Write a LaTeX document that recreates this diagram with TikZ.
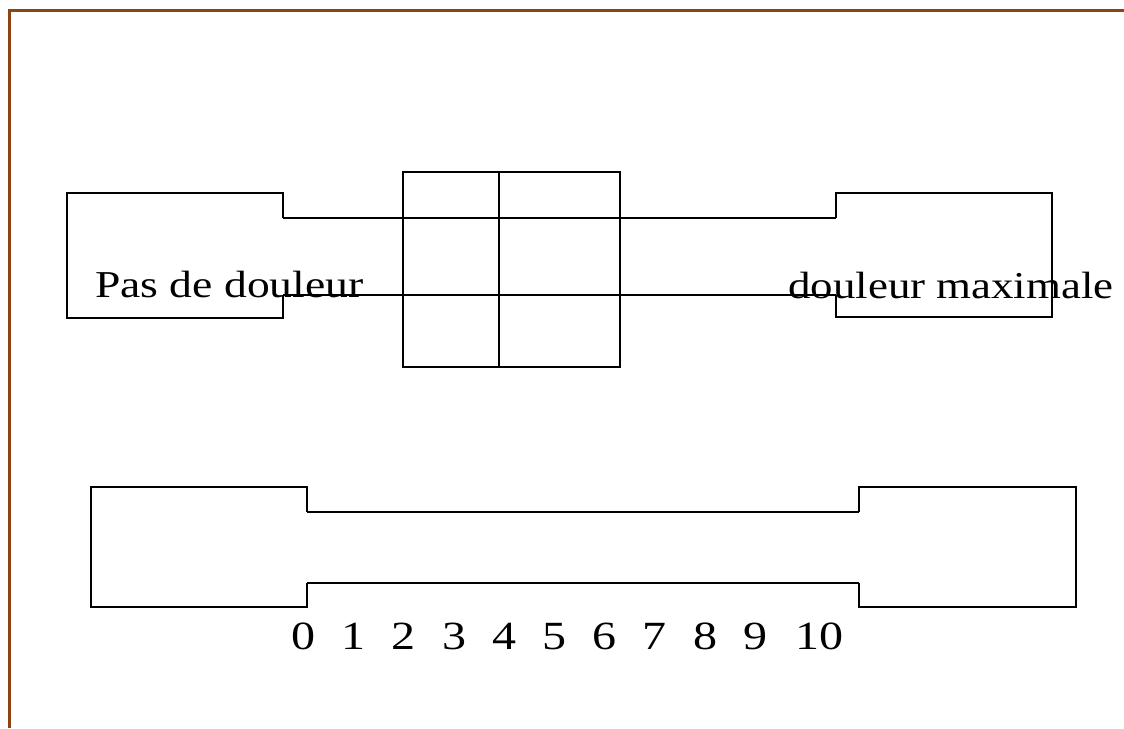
\documentclass[tikz,border=0pt]{standalone}
\usepackage{fontspec}
\setmainfont{Liberation Serif}[FakeStretch=1.2]
\definecolor{frame}{RGB}{139,69,19}
\tikzset{
  outline/.style={draw=black, line width=1.5pt, line join=miter},
  lbl/.style={inner sep=0pt, anchor=base west, font=\fontsize{38}{42}\selectfont},
  num/.style={inner sep=0pt, anchor=base, font=\fontsize{40}{44}\selectfont},
}
\begin{document}
\begin{tikzpicture}[x=1pt, y=-1pt]
  \useasboundingbox (0,0) rectangle (1124,728);
  % page frame (top and left edges)
  \draw[frame, line width=3pt] (9.3,728) -- (9.3,10.5) -- (1124,10.5);

  % upper scale: end boxes joined by a band
  \coordinate (uL1) at (283,218);
  \coordinate (uL2) at (283,295);
  \coordinate (uR1) at (836,218);
  \coordinate (uR2) at (836,295);
  \draw[outline] (uL1) -- (283,193) -- (67,193) -- (67,318) -- (283,318) -- (uL2);
  \draw[outline] (uR1) -- (836,193) -- (1052,193) -- (1052,317) -- (836,317) -- (uR2);
  \draw[outline] (uL1) -- (uR1);
  \draw[outline] (uL2) -- (uR2);
  % cursor window
  \draw[outline] (403,172) rectangle (620,367);
  \draw[outline] (499,172) -- (499,367);

  \node[lbl] (min) at (95,297) {Pas de douleur};
  \node[lbl, xscale=0.985] (max) at (788,298) {douleur maximale};

  % lower scale
  \coordinate (bL1) at (307,512);
  \coordinate (bL2) at (307,583);
  \coordinate (bR1) at (859,512);
  \coordinate (bR2) at (859,583);
  \draw[outline] (bL1) -- (307,487) -- (91,487) -- (91,607) -- (307,607) -- (bL2);
  \draw[outline] (bR1) -- (859,487) -- (1076,487) -- (1076,607) -- (859,607) -- (bR2);
  \draw[outline] (bL1) -- (bR1);
  \draw[outline] (bL2) -- (bR2);

  % graduation
  \foreach \i in {0,...,9}{
    \node[num] (n\i) at ({303.5+50.2*\i},649) {\i};
  }
  \node[num] (n10) at (819,649) {10};
\end{tikzpicture}
\end{document}
